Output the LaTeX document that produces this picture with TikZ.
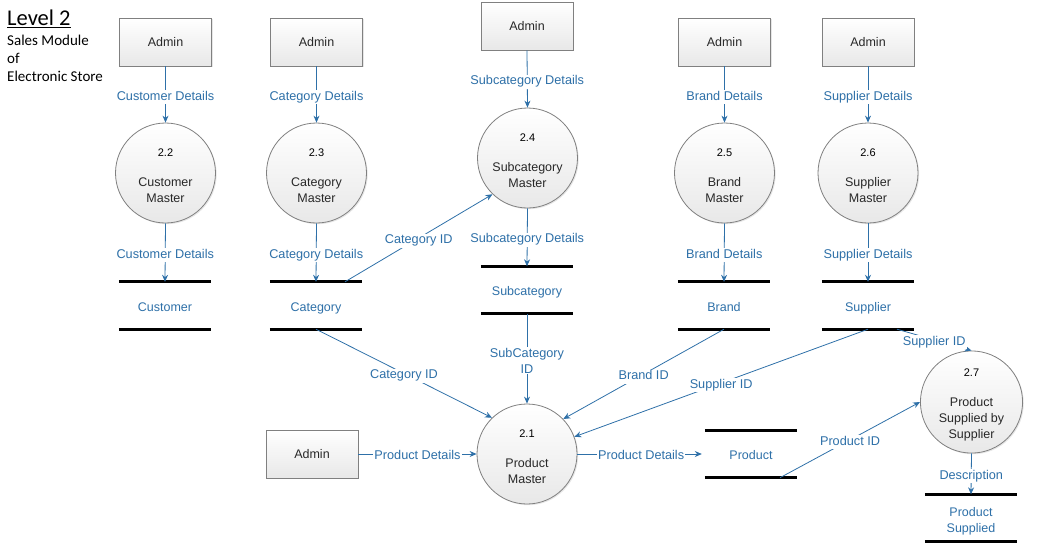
\documentclass[tikz,border=0pt]{standalone}
\usepackage{fontspec}
\setmainfont{Liberation Sans}
\newfontfamily\titlefont{Carlito}
\usetikzlibrary{shadows,arrows.meta}
\definecolor{flow}{RGB}{46,112,168}
\definecolor{edgegray}{RGB}{128,128,128}
\definecolor{txt}{RGB}{40,40,40}
\begin{document}
\begin{tikzpicture}[x=1pt,y=-1pt,
 proc/.style={circle, minimum size=100pt, inner sep=0pt, draw=edgegray, line width=0.8pt,
   top color=white, bottom color=black!9,
   drop shadow={shadow xshift=1.2pt,shadow yshift=-1.2pt,opacity=0.2},
   align=center, font=\fontsize{12.5}{16}\selectfont, text=txt},
 ent/.style={rectangle, minimum width=92pt, minimum height=48pt, inner sep=0pt, draw=edgegray, line width=0.8pt,
   top color=white, bottom color=black!9,
   drop shadow={shadow xshift=1.2pt,shadow yshift=-1.2pt,opacity=0.2},
   font=\fontsize{12.5}{16}\selectfont, text=txt, text height=9.5pt, text depth=0pt},
 store/.style={minimum width=92pt, minimum height=47pt, inner sep=0pt, align=center, text=flow,
   font=\fontsize{12.5}{16}\selectfont, text height=11pt, text depth=0pt},
 store2/.style={minimum width=92pt, minimum height=47pt, inner sep=0pt, align=center, text=flow,
   font=\fontsize{12.5}{16}\selectfont},
 bar/.style={line width=3pt, black},
 flowline/.style={draw=flow, line width=0.8pt, -{Stealth[length=7pt,width=6pt]}},
 lbl/.style={fill=white, inner sep=1pt, text=flow, font=\fontsize{12.7}{16}\selectfont, align=center,
   text height=9pt, text depth=3pt, yshift=-2.5pt},
 lbl2/.style={fill=white, inner sep=1pt, text=flow, font=\fontsize{12.7}{16}\selectfont, align=center,
   yshift=-2pt}
]
\useasboundingbox (0,0) rectangle (1041,549);

% title
\node[anchor=west, inner sep=0pt, font=\titlefont\fontsize{22.5}{24}\selectfont] (t1) at (7,19) {\underline{Level 2}};
\node[anchor=west, inner sep=0pt, font=\titlefont\fontsize{15}{18}\selectfont] (t2) at (7,40) {Sales Module};
\node[anchor=west, inner sep=0pt, font=\titlefont\fontsize{15}{18}\selectfont] (t3) at (7,58) {of};
\node[anchor=west, inner sep=0pt, font=\titlefont\fontsize{15}{18}\selectfont] (t4) at (7,76) {Electronic Store};

% entities
\node[ent] (a1) at (165.5,42) {Admin};
\node[ent] (a2) at (316.5,42) {Admin};
\node[ent] (a3) at (527,26) {Admin};
\node[ent] (a4) at (724.5,42) {Admin};
\node[ent] (a5) at (868,42) {Admin};
\node[ent] (a6) at (312,454) {Admin};

% processes
\newcommand{\pnum}[1]{{\fontsize{11}{16}\selectfont\color{black}\rule{0pt}{14pt}#1}}
\node[proc] (p22) at (165.5,173) {\pnum{2.2}\\[14pt]Customer\\Master};
\node[proc] (p23) at (316.5,173) {\pnum{2.3}\\[14pt]Category\\Master};
\node[proc] (p24) at (527.5,158) {\pnum{2.4}\\[14pt]Subcategory\\Master};
\node[proc] (p25) at (724.5,173) {\pnum{2.5}\\[14pt]Brand\\Master};
\node[proc] (p26) at (868,173) {\pnum{2.6}\\[14pt]Supplier\\Master};
\node[proc] (p21) at (527,454) {\pnum{2.1}\\[14pt]Product\\Master};
\node[proc] (p27) at (971.5,402) {\pnum{2.7}\\[14pt]Product\\Supplied by\\Supplier};

% data stores
\node[store] (scu) at (165,305.5) {Customer};
\node[store] (sca) at (316,305.5) {Category};
\node[store] (ssc) at (527,290) {Subcategory};
\node[store] (sbr) at (724,305.5) {Brand};
\node[store] (ssu) at (868,305.5) {Supplier};
\node[store] (spr) at (751,454) {Product};
\node[store2] (sps) at (971,518) {\rule{0pt}{15pt}Product\\Supplied};
\foreach \s in {scu,sca,ssc,sbr,ssu,spr,sps}{
  \draw[bar] (\s.north west) -- (\s.north east);
  \draw[bar] (\s.south west) -- (\s.south east);
}

% flows from admins
\draw[flowline] (a1.south) -- node[lbl]{Customer Details} (p22.north);
\draw[flowline] (a2.south) -- node[lbl]{Category Details} (p23.north);
\draw[flowline] (a3.south) -- node[lbl]{Subcategory Details} (p24.north);
\draw[flowline] (a4.south) -- node[lbl]{Brand Details} (p25.north);
\draw[flowline] (a5.south) -- node[lbl]{Supplier Details} (p26.north);

% flows to stores
\draw[flowline] (p22.south) -- node[lbl]{Customer Details} (scu.north);
\draw[flowline] (p23.south) -- node[lbl]{Category Details} (sca.north);
\draw[flowline] (p24.south) -- node[lbl]{Subcategory Details} (ssc.north);
\draw[flowline] (p25.south) -- node[lbl]{Brand Details} (sbr.north);
\draw[flowline] (p26.south) -- node[lbl]{Supplier Details} (ssu.north);

% cross flows
\coordinate (caTop) at ([xshift=29pt]sca.north);
\draw[flowline] (caTop) -- node[lbl]{Category ID} (p24.226);
\draw[flowline] (sca.south) -- node[lbl]{Category ID} (p21.134);
\draw[flowline] (ssc.south) -- node[lbl2]{SubCategory\\ID} (p21.north);
\draw[flowline] (sbr.south) -- node[lbl]{Brand ID} (p21.44);
\draw[flowline] (ssu.south) -- node[lbl]{Supplier ID} (p21.20);
\coordinate (suBot) at ([xshift=29pt]ssu.south);
\draw[flowline] (suBot) -- node[lbl]{Supplier ID} (p27.north);
\draw[flowline] (a6.east) -- node[lbl]{Product Details} (p21.west);
\draw[flowline, shorten >=3pt] (p21.east) -- node[lbl]{Product Details} (spr.west);
\coordinate (prBot) at ([xshift=29pt]spr.south);
\draw[flowline] (prBot) -- node[lbl]{Product ID} (p27.west);
\draw[flowline] (p27.south) -- node[lbl]{Description} (sps.north);
\end{tikzpicture}
\end{document}
